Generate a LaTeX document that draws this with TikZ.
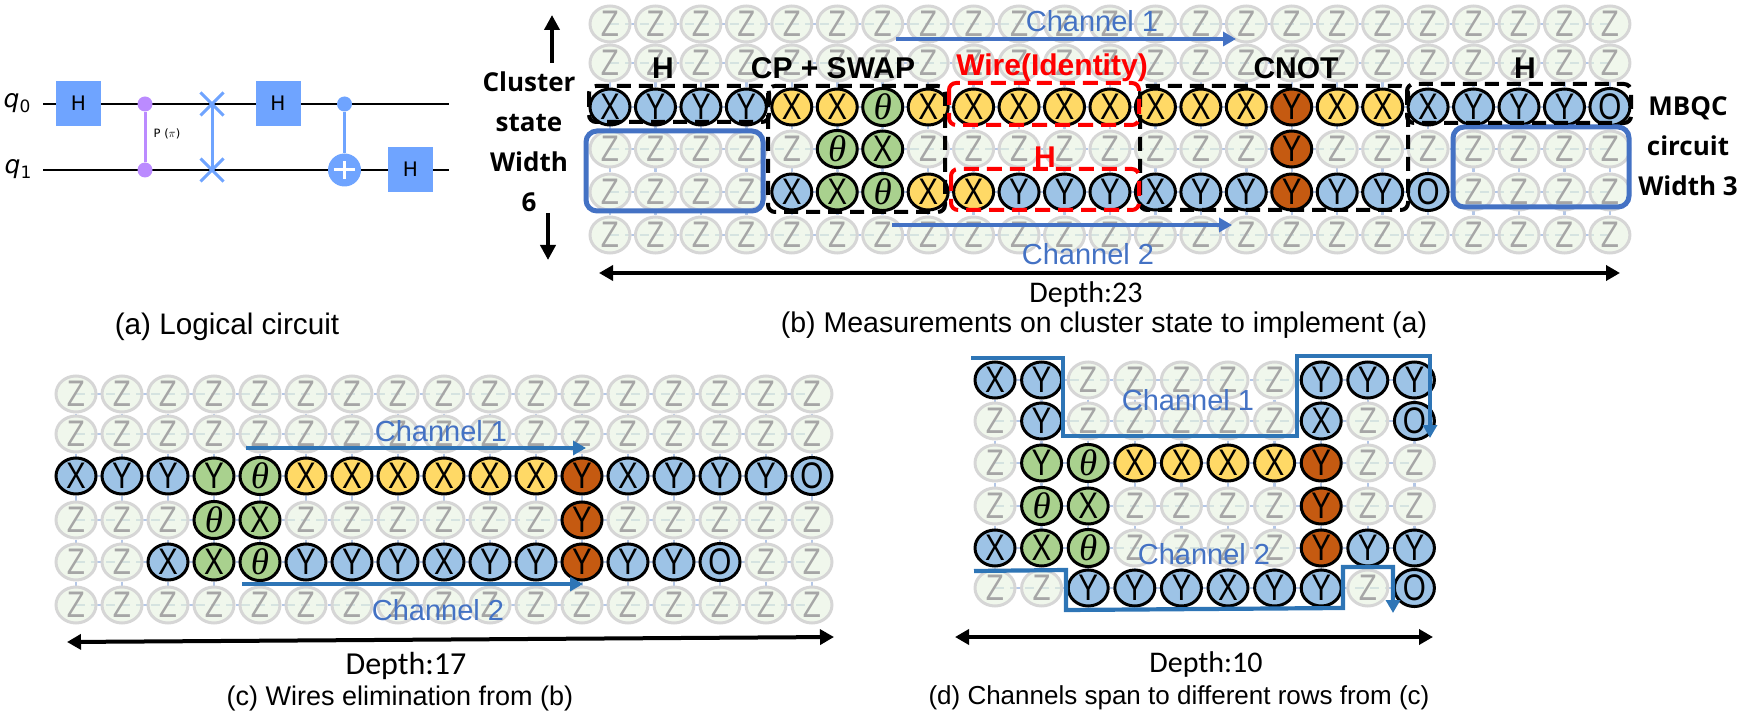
\documentclass[tikz,border=0pt]{standalone}
\usepackage{fontspec}
\usetikzlibrary{arrows.meta,shapes.geometric,shapes.misc,backgrounds}
\setmainfont{Liberation Sans}
\newfontfamily\cellfont[FakeStretch=0.8]{Liberation Sans}
\newfontfamily\thetafont{Liberation Serif}
\newfontfamily\uifont{Open Sans}
\newfontfamily\calfont{Carlito}
\newfontfamily\qisfont{DejaVu Sans}
\newcommand{\fsz}[1]{\fontsize{#1}{#1}\selectfont}

\definecolor{gateblue}{HTML}{6FA4FF}
\definecolor{gatepurple}{HTML}{BB8BFF}
\definecolor{cellblue}{HTML}{9DC3E6}
\definecolor{cellyellow}{HTML}{FFD966}
\definecolor{cellgreen}{HTML}{A9D18E}
\definecolor{cellbrown}{HTML}{C55A11}
\definecolor{cellpale}{HTML}{E2F0D9}
\definecolor{zring}{HTML}{D6D6D6}
\definecolor{ztext}{HTML}{A6A6A6}
\definecolor{gridblue}{HTML}{B4C7E7}
\definecolor{griddash}{HTML}{C9D6E8}
\definecolor{chanblue}{HTML}{4472C4}
\definecolor{pathblue}{HTML}{2E75B6}

\tikzset{
  cell/.style={ellipse,draw=black,line width=3pt,minimum width=40pt,minimum height=35pt,inner sep=0pt,font=\cellfont\fsz{37}},
  Z/.style={cell,draw=zring,fill=cellpale,fill opacity=.5,text opacity=1,text=ztext,node contents=Z},
  bX/.style={cell,fill=cellblue,node contents=X},
  bY/.style={cell,fill=cellblue,node contents=Y},
  bO/.style={cell,fill=cellblue,node contents=O},
  yX/.style={cell,fill=cellyellow,node contents=X},
  gX/.style={cell,fill=cellgreen,node contents=X},
  gY/.style={cell,fill=cellgreen,node contents=Y},
  gT/.style={cell,fill=cellgreen,node contents={\thetafont\itshape θ}},
  rY/.style={cell,fill=cellbrown,node contents=Y},
  gridline/.style={gridblue,line width=2.5pt},
  griddashed/.style={griddash,line width=2pt,dash pattern=on 9pt off 6pt},
  gatebox/.style={fill=gateblue,minimum size=45pt,inner sep=0pt,font=\qisfont\fsz{20}},
  blackbox/.style={draw=black,line width=4pt,dash pattern=on 14pt off 8pt,rounded corners=7pt},
  redbox/.style={draw=red,line width=4pt,dash pattern=on 15pt off 8pt,rounded corners=7pt},
  bluebox/.style={draw=chanblue,line width=5pt,rounded corners=11pt},
  chanarrow/.style={chanblue,line width=4pt,-{Triangle[length=13pt,width=14pt]}},
  patharrow/.style={pathblue,line width=4.2pt,-{Triangle[length=13pt,width=14pt]}},
  deptharrow/.style={black,line width=4pt,{Triangle[length=14pt,width=15pt]}-{Triangle[length=14pt,width=15pt]}},
  sidearrow/.style={black,line width=4pt,-{Triangle[length=15pt,width=15pt]}},
  chanlabel/.style={text=chanblue,font=\fsz{29}},
  depthlabel/.style={font=\calfont\fsz{30}},
  sectlabel/.style={font=\bfseries\fsz{30}},
  sidelabel/.style={font=\uifont\bfseries\fsz{26},align=center},
}

% one row of a cluster: prefix, row, y, x0, dx, cells
\newcommand{\cellrow}[6]{
  \foreach \kind [count=\c] in {#6} {
    \node[name=#1-#2-\c,at={({#4+#5*(\c-1)},#3)},\kind];
  }
}
% light lattice behind a cluster: prefix, last column, column before it
\newcommand{\lattice}[3]{
  \begin{pgfonlayer}{background}
    \foreach \r in {1,...,6} {
      \draw[griddashed] (#1-\r-1.center) -- (#1-\r-#2.center);
      \foreach \c [evaluate=\c as \n using int(\c+1)] in {1,...,#3} {
        \draw[gridline] (#1-\r-\c) -- (#1-\r-\n);
      }
    }
    \foreach \c in {1,...,#2} {
      \foreach \r [evaluate=\r as \n using int(\r+1)] in {1,...,5} {
        \draw[gridline] (#1-\r-\c) -- (#1-\n-\c);
      }
    }
  \end{pgfonlayer}
}

\begin{document}
\begin{tikzpicture}[x=1pt,y=-1pt]
  \useasboundingbox (0,0) rectangle (1743,719);

  % (a) logical circuit
  \coordinate (qAw) at (43,104);
  \coordinate (qAe) at (449,104);
  \coordinate (qBw) at (43,170);
  \coordinate (qBe) at (449,170);
  \draw[line width=2.6pt] (qAw) -- (qAe);
  \draw[line width=2.6pt] (qBw) -- (qBe);
  \node[font=\qisfont\fsz{25}] (qAlabel) at (17,103) {\itshape q\raisebox{-.2em}{\upshape\fsz{17}0}};
  \node[font=\qisfont\fsz{25}] (qBlabel) at (18,169) {\itshape q\raisebox{-.2em}{\upshape\fsz{17}1}};
  \node[gatebox] (hA) at (78.5,103.5) {H};
  \node[gatebox] (hB) at (278,103.5) {H};
  \node[gatebox] (hC) at (410.5,169.5) {H};
  \node[circle,fill=gatepurple,minimum size=15pt,inner sep=0pt] (cpA) at (145,104) {};
  \node[circle,fill=gatepurple,minimum size=15pt,inner sep=0pt] (cpB) at (145,170) {};
  \draw[gatepurple,line width=3pt] (cpA) -- (cpB);
  \node[font=\qisfont\fsz{11.5}] (cplabel) at (167,134) {P ($\pi$)};
  \node[cross out,draw=gateblue,line width=3pt,minimum size=20pt,inner sep=0pt] (swA) at (212,104) {};
  \node[cross out,draw=gateblue,line width=3pt,minimum size=20pt,inner sep=0pt] (swB) at (212,170) {};
  \draw[gateblue,line width=3pt] (swA.center) -- (swB.center);
  \node[circle,fill=gateblue,minimum size=15pt,inner sep=0pt] (cnA) at (344.5,104) {};
  \node[circle,fill=gateblue,minimum size=33pt,inner sep=0pt] (cnB) at (344.5,170) {};
  \draw[gateblue,line width=3pt] (cnA) -- (cnB);
  \draw[white,line width=3pt] (cnB.north) ++(0,8) -- ([yshift=8pt]cnB.south);
  \draw[white,line width=3pt] (cnB.west) ++(6,0) -- ([xshift=-6pt]cnB.east);
  \node[font=\fsz{29.7}] (capA) at (227,327) {(a) Logical circuit};

  % (b) measurements on the cluster state
  \foreach \r/\y in {1/24,2/63,6/235} {
    \cellrow{b}{\r}{\y}{610}{45.45}{Z,Z,Z,Z,Z,Z,Z,Z,Z,Z,Z,Z,Z,Z,Z,Z,Z,Z,Z,Z,Z,Z,Z}
  }
  \cellrow{b}{3}{107}{610}{45.45}{bX,bY,bY,bY,yX,yX,gT,yX,yX,yX,yX,yX,yX,yX,yX,rY,yX,yX,bX,bY,bY,bY,bO}
  \cellrow{b}{4}{149}{610}{45.45}{Z,Z,Z,Z,Z,gT,gX,Z,Z,Z,Z,Z,Z,Z,Z,rY,Z,Z,Z,Z,Z,Z,Z}
  \cellrow{b}{5}{192}{610}{45.45}{Z,Z,Z,Z,bX,gX,gT,yX,yX,bY,bY,bY,bX,bY,bY,rY,bY,bY,bO,Z,Z,Z,Z}
  \lattice{b}{23}{22}

  \draw[bluebox] (586,131) rectangle (763,211);
  \draw[bluebox] (1453,127) rectangle (1629,207);
  \draw[blackbox] (589,86) rectangle (769,122);
  \draw[blackbox] (768,86) rectangle (945,212);
  \draw[blackbox] (1140,86) rectangle (1408,210);
  \draw[blackbox] (1407,84) rectangle (1631,123);
  \draw[redbox] (949,83) rectangle (1139,125);
  \draw[redbox] (951,169) rectangle (1139,210);

  \node[sectlabel] (hBlabel) at (663,68) {H};
  \node[sectlabel] (cpLabel) at (833,68) {CP + SWAP};
  \node[sectlabel,text=red] (wireLabel) at (1052,68) {Wire(Identity)};
  \node[sectlabel,text=red] (hRedLabel) at (1045,157) {H};
  \node[sectlabel] (cnotLabel) at (1296,68) {CNOT};
  \node[sectlabel] (hCLabel) at (1525,68) {H};

  \coordinate (upS) at (552,63);
  \coordinate (upE) at (552,15);
  \coordinate (dnS) at (548,213);
  \coordinate (dnE) at (548,260);
  \draw[sidearrow] (upS) -- (upE);
  \draw[sidearrow] (dnS) -- (dnE);
  \node[sidelabel] (clusterLabel) at (529,142) {Cluster\\[14pt]state\\[14pt]Width\\[14pt]6};
  \node[sidelabel] (mbqcLabel) at (1688,146) {MBQC\\[14pt]circuit\\[14pt]Width 3};

  \coordinate (chAs) at (896,39);
  \coordinate (chAe) at (1236,39);
  \coordinate (chBs) at (892,225);
  \coordinate (chBe) at (1232,225);
  \draw[chanarrow] (chAs) -- (chAe);
  \draw[chanarrow] (chBs) -- (chBe);
  \node[chanlabel] (chAlabel) at (1092,21) {Channel 1};
  \node[chanlabel] (chBlabel) at (1088,254) {Channel 2};

  \coordinate (depBw) at (599,273);
  \coordinate (depBe) at (1620,273);
  \draw[deptharrow] (depBw) -- (depBe);
  \node[depthlabel] (depBlabel) at (1086,295) {Depth:23};
  \node[font=\fsz{28.5}] (capB) at (1104,325) {(b) Measurements on cluster state to implement (a)};

  % (c) wires eliminated
  \foreach \r/\y in {1/394,2/434,6/605} {
    \cellrow{c}{\r}{\y}{76}{46}{Z,Z,Z,Z,Z,Z,Z,Z,Z,Z,Z,Z,Z,Z,Z,Z,Z}
  }
  \cellrow{c}{3}{476}{76}{46}{bX,bY,bY,gY,gT,yX,yX,yX,yX,yX,yX,rY,bX,bY,bY,bY,bO}
  \cellrow{c}{4}{520}{76}{46}{Z,Z,Z,gT,gX,Z,Z,Z,Z,Z,Z,rY,Z,Z,Z,Z,Z}
  \cellrow{c}{5}{562}{76}{46}{Z,Z,bX,gX,gT,bY,bY,bY,bX,bY,bY,rY,bY,bY,bO,Z,Z}
  \lattice{c}{17}{16}

  \coordinate (chCs) at (246,448);
  \coordinate (chCe) at (586,448);
  \coordinate (chDs) at (242,584);
  \coordinate (chDe) at (583,584);
  \draw[patharrow] (chCs) -- (chCe);
  \draw[patharrow] (chDs) -- (chDe);
  \node[chanlabel] (chClabel) at (441,431) {Channel 1};
  \node[chanlabel] (chDlabel) at (438,610) {Channel 2};

  \coordinate (depCw) at (67,642);
  \coordinate (depCe) at (834,637);
  \draw[deptharrow] (depCw) -- (depCe);
  \node[depthlabel,font=\calfont\fsz{32}] (depClabel) at (406,666) {Depth:17};
  \node[font=\fsz{27}] (capC) at (400,699) {(c) Wires elimination from (b)};

  % (d) channels over several rows
  \cellrow{d}{1}{380}{995}{46.6}{bX,bY,Z,Z,Z,Z,Z,bY,bY,bY}
  \cellrow{d}{2}{421}{995}{46.6}{Z,bY,Z,Z,Z,Z,Z,bX,Z,bO}
  \cellrow{d}{3}{463}{995}{46.6}{Z,gY,gT,yX,yX,yX,yX,rY,Z,Z}
  \cellrow{d}{4}{506}{995}{46.6}{Z,gT,gX,Z,Z,Z,Z,rY,Z,Z}
  \cellrow{d}{5}{548}{995}{46.6}{bX,gX,gT,Z,Z,Z,Z,rY,bY,bY}
  \cellrow{d}{6}{588}{995}{46.6}{Z,Z,bY,bY,bY,bX,bY,bY,Z,bO}
  \lattice{d}{10}{9}

  \coordinate (pathAs) at (971,358);
  \coordinate (pathAe) at (1430,438);
  \coordinate (pathBs) at (974,571);
  \coordinate (pathBe) at (1393,613);
  \draw[patharrow] (pathAs) -- (1063,358) -- (1063,436) -- (1297,436) -- (1297,356) -- (1430,356) -- (pathAe);
  \draw[patharrow] (pathBs) -- (1066,570) -- (1066,610) -- (1343,608) -- (1343,567) -- (1393,567) -- (pathBe);
  \node[chanlabel] (chElabel) at (1188,400) {Channel 1};
  \node[chanlabel] (chFlabel) at (1204,554) {Channel 2};

  \coordinate (depDw) at (955,637);
  \coordinate (depDe) at (1433,637);
  \draw[deptharrow] (depDw) -- (depDe);
  \node[depthlabel] (depDlabel) at (1206,664) {Depth:10};
  \node[font=\fsz{26}] (capD) at (1179,698) {(d) Channels span to different rows from (c)};
\end{tikzpicture}
\end{document}
